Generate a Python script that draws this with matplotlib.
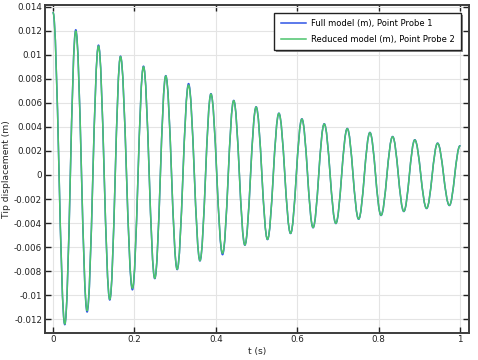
import matplotlib
matplotlib.use("Agg")
import matplotlib.pyplot as plt
from matplotlib.path import Path
from matplotlib.patches import PathPatch
from matplotlib.lines import Line2D
import matplotlib.patheffects as pe

# Extrema (time, value); the last point is the end of the record
t_ext = [0.0, 0.0288, 0.0558, 0.0836, 0.1116, 0.1394, 0.1657, 0.195, 0.2222, 0.25,
         0.277, 0.305, 0.333, 0.361, 0.388, 0.4165, 0.444, 0.4714, 0.499, 0.527,
         0.555, 0.5837, 0.6115, 0.639, 0.6664, 0.695, 0.723, 0.751, 0.7787, 0.806,
         0.8345, 0.862, 0.889, 0.918, 0.945, 0.974, 1.0]
reduced_ext = [0.0135, -0.01239, 0.01197, -0.01128, 0.01073, -0.01034, 0.00984, -0.00942, 0.0090, -0.00859,
               0.00823, -0.00784, 0.00748, -0.00712, 0.00673, -0.00651, 0.00618, -0.00582, 0.00565, -0.00535,
               0.00512, -0.00485, 0.00465, -0.00437, 0.00424, -0.00402, 0.00385, -0.00366, 0.00352, -0.00335,
               0.00318, -0.00302, 0.00291, -0.00277, 0.00263, -0.00252, 0.00241]
full_ext = [0.0135, -0.01245, 0.01208, -0.01140, 0.01080, -0.01040, 0.00988, -0.00955, 0.00905, -0.00862,
            0.00826, -0.00787, 0.00760, -0.00715, 0.00676, -0.00663, 0.00620, -0.00584, 0.00567, -0.00537,
            0.00514, -0.00487, 0.00467, -0.00439, 0.00426, -0.00404, 0.00387, -0.00368, 0.00354, -0.00337,
            0.00320, -0.00304, 0.00293, -0.00279, 0.00265, -0.00254, 0.00243]

series_labels = ["Full model (m), Point Probe 1", "Reduced model (m), Point Probe 2"]
series_colors = ["#2f55e6", "#4cc46c"]

x_ticks = [0, 0.2, 0.4, 0.6, 0.8, 1.0]
x_ticklabels = ["0", "0.2", "0.4", "0.6", "0.8", "1"]
y_ticks = [-0.012, -0.010, -0.008, -0.006, -0.004, -0.002, 0.0, 0.002, 0.004, 0.006,
           0.008, 0.010, 0.012, 0.014]
y_ticklabels = ["-0.012", "-0.01", "-0.008", "-0.006", "-0.004", "-0.002", "0", "0.002",
                "0.004", "0.006", "0.008", "0.01", "0.012", "0.014"]

plt.rcParams['font.family'] = ['DejaVu Sans']

fig = plt.figure(figsize=(4.78, 3.6), dpi=100)
ax = fig.add_axes([0.094, 0.076, 0.887, 0.911])


def smooth_path(ts, ys):
    # smooth curve through extrema with horizontal tangents (cubic Bezier segments)
    k = 0.3634
    verts = [(ts[0], ys[0])]
    codes = [Path.MOVETO]
    for i in range(len(ts) - 1):
        dt = ts[i + 1] - ts[i]
        verts += [(ts[i] + k * dt, ys[i]), (ts[i + 1] - k * dt, ys[i + 1]), (ts[i + 1], ys[i + 1])]
        codes += [Path.CURVE4, Path.CURVE4, Path.CURVE4]
    return Path(verts, codes)


for ys, col, z in [(full_ext, series_colors[0], 3), (reduced_ext, series_colors[1], 4)]:
    patch = PathPatch(smooth_path(t_ext, ys), fill=False, edgecolor=col, linewidth=1.1,
                      zorder=z, capstyle='round', joinstyle='round')
    ax.add_patch(patch)

ax.set_xlim(-0.02, 1.022)
ax.set_ylim(-0.01311, 0.01416)
ax.set_xticks(x_ticks)
ax.set_xticklabels(x_ticklabels)
ax.set_yticks(y_ticks)
ax.set_yticklabels(y_ticklabels)
ax.grid(True, color='#e4e4e4', linewidth=0.8, zorder=0)
ax.set_axisbelow(True)
ax.tick_params(direction='in', length=4, width=1, top=True, right=True,
               labelsize=6.3, colors='#222222', pad=2.0)
for s in ax.spines.values():
    s.set_color('#3c3c3c')
    s.set_linewidth(1.4)

ax.set_xlabel('t (s)', fontsize=6.6, labelpad=1.5, color='#222222')
ax.set_ylabel('Tip displacement (m)', fontsize=6.6, labelpad=2, color='#222222')

handles = [Line2D([], [], color=series_colors[0], linewidth=1.1),
           Line2D([], [], color=series_colors[1], linewidth=1.1)]
leg = ax.legend(handles, series_labels, loc='upper right', fontsize=6.0,
                frameon=True, fancybox=False, shadow=False, framealpha=1.0,
                borderaxespad=1.0, handlelength=3.0, handletextpad=0.6,
                borderpad=0.75, labelspacing=0.75)
frame = leg.get_frame()
frame.set_facecolor('white')
frame.set_edgecolor('#222222')
frame.set_linewidth(1.0)
frame.set_path_effects([pe.SimplePatchShadow(offset=(1.5, -1.5), shadow_rgbFace='#8c8c8c', alpha=1.0),
                        pe.Normal()])

fig.savefig('out.png', dpi=100)
